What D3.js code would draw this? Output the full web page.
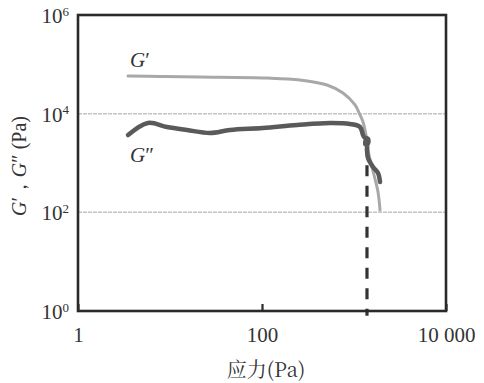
<!DOCTYPE html>
<html><head><meta charset="utf-8">
<script src="https://cdn.jsdelivr.net/npm/d3@7/dist/d3.min.js"></script>
<style>body{margin:0;background:#fff}</style>
</head><body>
<svg id="c" width="484" height="383"></svg>
<script>
const xTicks = [1, 100, 10000];
const xTickLabels = ["1", "100", "10 000"];
const yTicks = [1, 100, 10000, 1000000];
const yTickExp = ["0", "2", "4", "6"];
const gridValues = [100, 10000];
// G' (storage modulus) stress (Pa) / value (Pa)
const gpStress = [3.5, 7.8, 21.2, 113, 259, 509, 759, 1026, 1163, 1253, 1350, 1456, 1650, 1823, 1918];
const gpValue  = [58000, 56600, 55300, 52800, 48100, 38100, 26200, 15000, 9400, 6780, 3690, 1450, 571, 258, 111];
// G'' (loss modulus)
const gppStress = [3.5, 5.77, 9.27, 15.3, 27.2, 44.9, 102, 240, 548, 905, 1163, 1253, 1300, 1420, 1420, 1330, 1340, 1384, 1384, 1420, 1610, 1823, 1918];
const gppValue  = [3690, 6470, 5370, 4670, 4060, 4670, 5120, 5890, 6470, 6170, 5370, 3690, 3300, 3100, 2500, 2400, 2900, 2670, 1830, 1260, 830, 627, 412];
// yield stress (dashed vertical)
const yieldStress = [1384, 1384];
const yieldValue = [900, 0.8];

const svg = d3.select("#c");
const L = 78, R = 446, T = 15, B = 311;
const x = d3.scaleLog().domain([1, 10000]).range([L, R]);
const y = d3.scaleLog().domain([1, 1000000]).range([B, T]);
const ink = "#2a2a2a";
const serif = "'Liberation Serif','Times New Roman',serif";

// gridlines
svg.append("g").selectAll("line").data(gridValues).join("line")
  .attr("x1", L).attr("x2", R).attr("y1", d => y(d)).attr("y2", d => y(d))
  .attr("stroke", "#c4c4c4").attr("stroke-width", 1.5).attr("stroke-dasharray", "4,1");

const line = d3.line().x(d => x(d[0])).y(d => y(d[1])).curve(d3.curveCatmullRom.alpha(0.5));

// G'
svg.append("path").datum(gpStress.map((s, i) => [s, gpValue[i]]))
  .attr("d", line).attr("fill", "none").attr("stroke", "#a8a8a8").attr("stroke-width", 3)
  .attr("stroke-linecap", "round");
// G''
svg.append("path").datum(gppStress.map((s, i) => [s, gppValue[i]]))
  .attr("d", line).attr("fill", "none").attr("stroke", "#5a5a5a").attr("stroke-width", 4.5)
  .attr("stroke-linecap", "round").attr("stroke-linejoin", "round");
// yield dashed
svg.append("path").datum(yieldStress.map((s, i) => [s, yieldValue[i]]))
  .attr("d", d3.line().x(d => x(d[0])).y(d => y(d[1])))
  .attr("fill", "none").attr("stroke", "#333").attr("stroke-width", 3.2)
  .attr("stroke-dasharray", "11,9.5");

// frame
svg.append("rect").attr("x", L).attr("y", T).attr("width", R - L).attr("height", B - T)
  .attr("fill", "none").attr("stroke", ink).attr("stroke-width", 2.6);

// x axis
const xa = svg.append("g").attr("transform", `translate(0,${B})`)
  .call(d3.axisBottom(x).tickValues(xTicks).tickSize(-7).tickPadding(16)
    .tickFormat((d, i) => xTickLabels[i]));
xa.select(".domain").remove();
xa.selectAll("line").attr("stroke", ink).attr("stroke-width", 2.2);
xa.selectAll("text").attr("font-family", serif).attr("font-size", 21).attr("fill", "#333");

// y axis
const ya = svg.append("g").attr("transform", `translate(${L},0)`)
  .call(d3.axisLeft(y).tickValues(yTicks).tickSize(0).tickPadding(9).tickFormat(() => ""));
ya.select(".domain").remove();
ya.selectAll("text").each(function(d, i) {
  const t = d3.select(this).attr("font-family", serif).attr("font-size", 21).attr("fill", "#333")
    .attr("dy", "0.35em");
  t.append("tspan").text("10");
  t.append("tspan").attr("font-size", 13).attr("dy", "-0.55em").text(yTickExp[i]);
});

// axis titles
svg.append("text").attr("x", 266).attr("y", 377).attr("text-anchor", "middle")
  .attr("font-family", "'Noto Serif CJK SC','Noto Sans CJK SC'," + serif).attr("font-size", 20).attr("fill", "#333")
  .text("应力(Pa)");
const yt = svg.append("text").attr("transform", "translate(26,166) rotate(-90)")
  .attr("text-anchor", "middle").attr("font-family", serif).attr("font-size", 20).attr("fill", "#333");
yt.append("tspan").attr("font-style", "italic").text("G");
yt.append("tspan").text("′，");
yt.append("tspan").attr("font-style", "italic").text("G");
yt.append("tspan").text("″ (Pa)");

// series labels
svg.append("text").attr("x", 130).attr("y", 67).attr("font-family", serif).attr("font-size", 21)
  .attr("fill", "#333").html("<tspan font-style='italic'>G</tspan>′");
svg.append("text").attr("x", 130).attr("y", 162).attr("font-family", serif).attr("font-size", 21)
  .attr("fill", "#333").html("<tspan font-style='italic'>G</tspan>″");
</script>
</body></html>
